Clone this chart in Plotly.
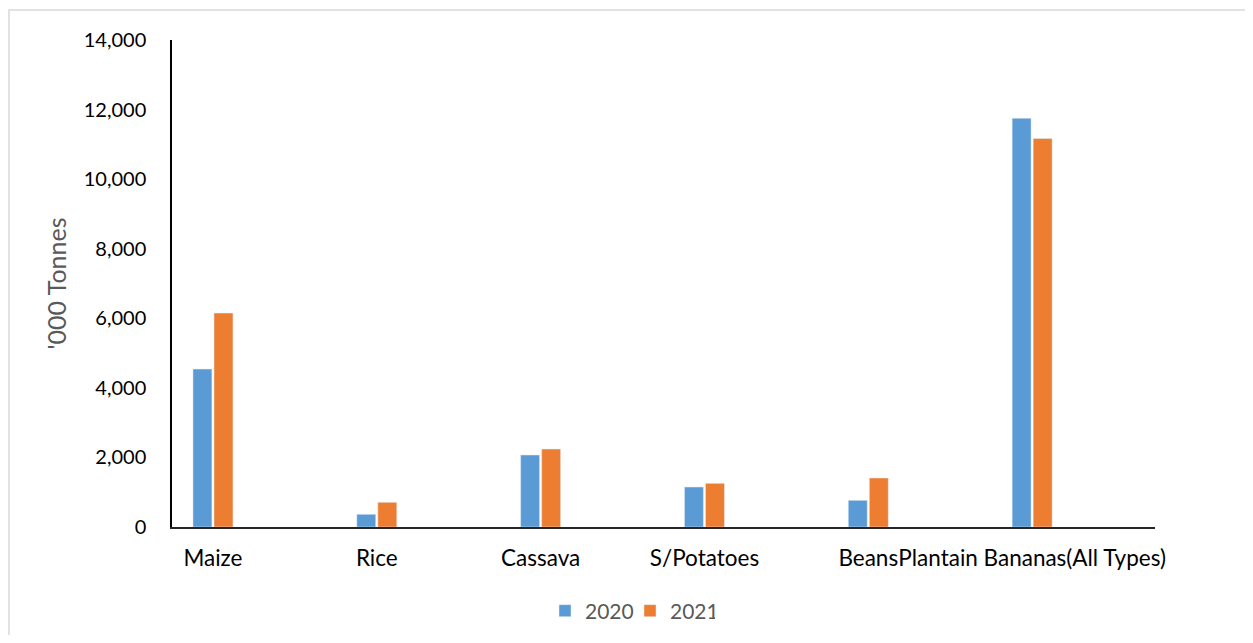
import plotly.graph_objects as go

categories = ["Maize", "Rice", "Cassava", "S/Potatoes", "Beans", "Plantain Bananas(All Types)"]
values_2020 = [4540, 365, 2070, 1150, 767, 11750]
values_2021 = [6150, 710, 2240, 1255, 1408, 11170]
y_ticks = [0, 2000, 4000, 6000, 8000, 10000, 12000, 14000]

# page offset of the figure (default body margin)
OFF = 8
W, H = 1253 - 2 * OFF, 643 - 2 * OFF
# plot area in page pixels
L, R, T, B = 172, 1155, 40, 527

idx = list(range(len(categories)))

fig = go.Figure()
fig.add_trace(go.Bar(x=idx, y=values_2020, name="2020", marker_color="#5B9BD5"))
fig.add_trace(go.Bar(x=idx, y=values_2021, name="2021", marker_color="#ED7D31"))

font_family = "Lato, 'Open Sans', sans-serif"

def px_x(p):
    return (p - L) / (R - L)

def px_y(p):
    return (B - p) / (B - T)

fig.update_layout(
    width=W, height=H,
    margin=dict(l=L - OFF, r=W - (R - OFF), t=T - OFF, b=H - (B - OFF), pad=0, autoexpand=False),
    paper_bgcolor="white", plot_bgcolor="white",
    barmode="group", bargap=0.743, bargroupgap=0.1,
    font=dict(family=font_family, size=20, color="#000000"),
    showlegend=True,
    legend=dict(orientation="h", x=px_x(545), xanchor="left", y=px_y(611), yanchor="middle",
                font=dict(size=21, color="#595959"), entrywidth=40, entrywidthmode="pixels",
                traceorder="normal", bgcolor="rgba(0,0,0,0)"),
    shapes=[dict(type="rect", xref="paper", yref="paper",
                 x0=px_x(9), x1=px_x(1270), y0=px_y(660), y1=px_y(10),
                 line=dict(color="#D9D9D9", width=1.5), fillcolor="rgba(0,0,0,0)", layer="below")],
)

fig.update_xaxes(
    range=[-0.25, 5.75], tickmode="array", tickvals=idx, ticktext=categories,
    tickangle=0, showgrid=False, zeroline=False, showline=True, linecolor="#262626", linewidth=1.5,
    ticks="", ticklabelstandoff=10, tickfont=dict(size=22.5, color="#000000"), automargin=False,
)
fig.update_yaxes(
    range=[0, 14000], tickmode="array", tickvals=y_ticks, tickformat=",d",
    showgrid=False, zeroline=False, showline=True, linecolor="#000000", linewidth=1.5,
    ticks="", ticklabelstandoff=20, tickfont=dict(size=20, color="#000000"), automargin=False,
    title=dict(text="'000 Tonnes", font=dict(size=25, color="#595959"), standoff=10),
)

fig.write_html("out.html")
